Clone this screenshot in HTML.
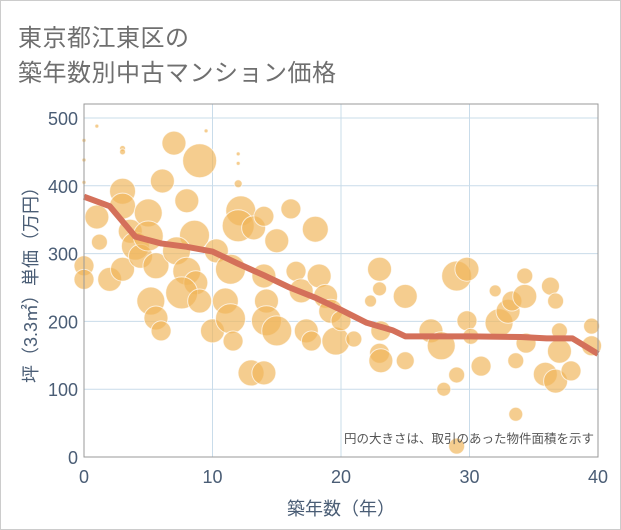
<!DOCTYPE html>
<html><head><meta charset="utf-8"><style>
html,body{margin:0;padding:0;background:#fff}
#wrap{position:relative;width:619px;height:528px;border:1px solid #ccc;background:#fff;overflow:hidden}
.title{position:absolute;left:17px;font:24px "Liberation Sans","Noto Sans CJK JP",sans-serif;color:#6f6f6f;letter-spacing:0.5px;white-space:nowrap}
svg{position:absolute;left:0;top:0}
text{font-family:"Liberation Sans","Noto Sans CJK JP",sans-serif}
</style></head><body>
<div id="wrap">
<div class="title" style="top:17px">東京都江東区の</div>
<div class="title" style="top:52px">築年数別中古マンション価格</div>
<svg id="chart" width="621" height="530"></svg>
</div>
<script>
const bubbleAge=[1,1.2,0,0,2,3,3,3,3.6,4,4.4,5,5,5.6,6.1,5.2,5.6,6,7,8,9,8.6,7.2,8,8.7,7.6,9,10,11,11.4,11.6,12.2,12,13.2,10.3,11.4,13,14,14,14,14.2,14.2,15,15,16.1,16.5,16.9,17.3,17.7,18,18.3,18.8,19.2,19.6,20,21,22.3,23,23,23,23.1,23.1,25,25,27,27.8,28,29,29.8,29,29,29.8,30.1,30.9,32,32.3,33,33.3,33.6,34.4,34.3,33.6,36.3,36.7,37,37,35.9,36.7,37.9,39.5,39.5,34.3,0,0,0,1,9.5,12,12,12,3,3];
const bubblePrice=[354,317,282,262,262,392,370,277,333,311,296,360,326,282,407,230,205,186,463,378,437,327,304,274,257,242,230,186,230,204,171,363,341,338,304,277,124,124,267,355,230,201,319,186,366,274,245,186,171,336,267,237,215,171,201,174,230,277,248,153,142,186,237,142,186,164,100,267,277,121,16,201,178,134,245,198,215,230,142,168,237,63,252,230,156,186,122,112,127,193,164,267,467,438,405,488,481,447,433,403,455,450];
const bubbleSize=[12,8,10,10,12,13,13,12,12,14,12,14,15,13,12,14,12,10,12,12,17,15,14,14,12,16,12,12,13,15,10,15,16,12,12,15,13,12,12,10,12,15,12,15,10,10,12,12,10,13,12,12,12,14,10,8,6,12,7,10,12,10,12,9,12,14,7,15,12,8,8,10,8,10,6,14,12,10,8,10,12,7,9,8,12,8,12,12,10,8,10,8,2,2,2,2,2,2,2,4,3,3];
const trendAge=[0,2,4,6,8,10,12,14,16,18,20,22,24,25,30,34,36,38,40];
const trendPrice=[384,370,325,315,310,303,285,268,250,235,217,198,187,178,178,177,175,175,152];
const xTicks=[0,10,20,30,40];
const yTicks=[0,100,200,300,400,500];
const L=83,R=597,T=103,B=456;
const xs=v=>L+(v/40)*(R-L);
const ys=v=>B-v*0.678;
const svg=document.getElementById('chart');
const NS='http://www.w3.org/2000/svg';
function mk(tag,attrs,parent){const e=document.createElementNS(NS,tag);for(const k in attrs)e.setAttribute(k,attrs[k]);(parent||svg).appendChild(e);return e;}
const bg=mk('rect',{x:L,y:T,width:R-L,height:B-T,fill:'#fff'});


xTicks.forEach(t=>{
 const g=mk('line',{x1:xs(t),x2:xs(t),y1:T,y2:B,stroke:'#c9dcea','stroke-width':1});
 
 
 const l=mk('text',{x:xs(t),y:B+26,'text-anchor':'middle','font-size':18,fill:'#4a5d75'});
 l.textContent=t;
 
 
});
yTicks.forEach(t=>{
 const g=mk('line',{x1:L,x2:R,y1:ys(t),y2:ys(t),stroke:'#c9dcea','stroke-width':1});
 
 
 const l=mk('text',{x:L-6,y:ys(t)+7,'text-anchor':'end','font-size':18,fill:'#4a5d75'});
 l.textContent=t;
 
 
});
bubbleAge.forEach((a,i)=>{
 const c=mk('circle',{cx:xs(a),cy:ys(bubblePrice[i]),r:bubbleSize[i],fill:'#f0b55a','fill-opacity':0.68,stroke:'#fff','stroke-width':1,'stroke-opacity':0.7});
 
 
});
const p=mk('polyline',{points:trendAge.map((a,i)=>xs(a)+','+ys(trendPrice[i])).join(' '),fill:'none',stroke:'#d4705a','stroke-width':6,'stroke-linejoin':'round'});


const fr=mk('rect',{x:L,y:T,width:R-L,height:B-T,fill:'none',stroke:'#999','stroke-width':1});


const note=mk('text',{x:R-4,y:B-14,'text-anchor':'end','font-size':12.5,fill:'#555'});
note.textContent='円の大きさは、取引のあった物件面積を示す';


const xt=mk('text',{x:(L+R)/2,y:514,'text-anchor':'middle','font-size':18,fill:'#4a5d75'});
xt.textContent='築年数（年）';


const yt=mk('text',{x:0,y:0,'text-anchor':'middle','font-size':18,fill:'#4a5d75',transform:'translate(36,'+((T+B)/2)+') rotate(-90)'});
yt.textContent='坪（3.3㎡）単価（万円）';


</script>
</body></html>
